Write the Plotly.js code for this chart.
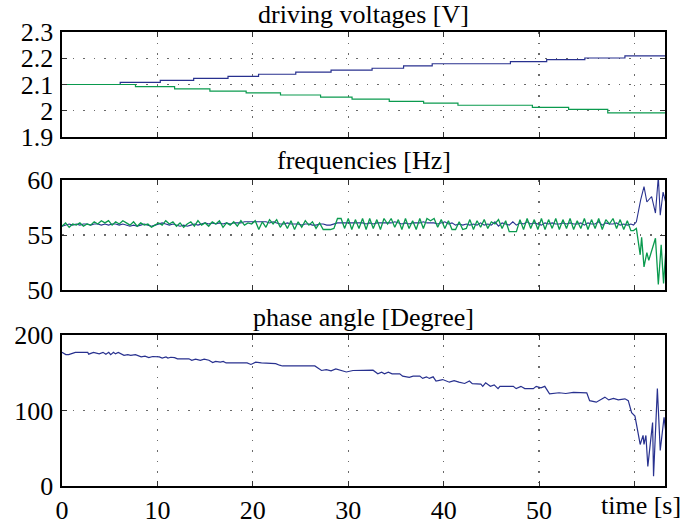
<!DOCTYPE html>
<html>
<head>
<meta charset="utf-8">
<script src="https://cdn.plot.ly/plotly-3.0.1.min.js"></script>
<style>html,body{margin:0;padding:0;background:#fff;}#chart{width:688px;height:524px;}</style>
</head>
<body>
<div id="chart"></div>
<script>
// ---------- driving voltages (step changes) ----------
const voltBlueT = [0, 6.1, 10.3, 13.8, 17.4, 20.6, 24.5, 28.2, 32.5, 35.8, 38.8, 47.0, 50.8, 54.8, 59.0, 63.2];
const voltBlueV = [2.100, 2.108, 2.116, 2.123, 2.131, 2.139, 2.147, 2.155, 2.162, 2.171, 2.179, 2.187, 2.195, 2.201, 2.209, 2.209];
const voltGreenT = [0, 7.7, 11.8, 15.5, 19.3, 22.9, 27.1, 30.4, 34.3, 37.9, 41.5, 49.3, 53.1, 57.2, 63.2];
const voltGreenV = [2.100, 2.092, 2.083, 2.075, 2.068, 2.060, 2.052, 2.044, 2.036, 2.029, 2.021, 2.013, 2.005, 1.992, 1.992];

// ---------- frequencies, sampled every 0.375 s up to 59.625 s, then tail ----------
const freqStep = 0.375;
const freqBlue = [
 55.8, 55.9, 56.0, 55.9, 56.0, 55.9, 56.0, 56.0, 55.9, 56.0, 56.0, 55.9, 56.0, 55.9, 56.0, 56.0, 55.9, 56.0, 55.9, 55.8, 55.9, 55.8, 55.9, 56.0, 55.9, 55.8, 55.9,
 56.0, 56.1, 56.0, 55.9, 56.0, 55.9, 55.8, 55.9, 55.8, 55.9, 56.0, 55.9, 56.0, 56.1, 56.0, 56.1, 56.0, 56.1, 56.0, 56.1, 56.0, 56.1, 56.1, 56.1, 56.2, 56.2, 56.2,
 56.2, 56.2, 56.2, 56.2, 56.1, 56.2, 56.1, 56.0, 56.0, 56.1, 56.0, 56.0, 56.0, 55.9, 56.0, 56.0, 55.9, 55.9, 56.0, 56.0, 55.9, 55.9, 56.0, 56.1, 56.1, 56.1,
 56.1, 56.1, 56.1, 56.1, 56.1, 56.0, 56.1, 56.0, 56.1, 56.1, 56.1, 56.1, 56.1, 56.2, 56.1, 56.0, 56.1, 56.0, 56.1, 56.1, 56.1, 56.2, 56.1, 56.1, 56.1, 56.0, 56.1,
 56.2, 56.0, 56.1, 55.9, 56.0, 55.9, 56.0, 55.9, 56.0, 55.9, 56.1, 55.9, 56.0, 55.9, 56.2, 55.8, 56.1, 56.0, 55.9, 56.2, 55.9, 56.1, 56.0, 56.2, 56.0, 56.1, 56.0,
 55.9, 56.1, 56.0, 56.1, 56.0, 56.0, 56.1, 56.0, 56.1, 56.0, 56.0, 56.1, 55.9, 56.1, 56.0, 56.0, 56.2, 55.9, 56.1, 56.0, 56.0, 56.1, 55.9, 56.0, 55.9, 56.0
];
const freqGreen = [
 55.8, 56.1, 55.7, 56.0, 55.9, 56.1, 55.8, 56.0, 55.9, 56.2, 56.0, 56.3, 56.1, 56.3, 55.9, 56.2, 56.0, 56.3, 56.1, 55.9, 56.2, 55.8, 56.1, 55.9, 56.0, 55.7, 55.9,
 56.1, 55.9, 56.3, 56.0, 56.2, 55.8, 56.1, 55.7, 56.0, 56.2, 55.8, 56.3, 55.9, 56.1, 55.8, 56.2, 56.0, 56.3, 55.7, 56.1, 55.9, 56.2, 55.8, 56.3, 55.9, 56.1, 56.0,
 56.3, 55.5, 56.2, 55.7, 56.4, 56.0, 56.4, 55.7, 56.2, 55.6, 56.3, 55.5, 56.2, 55.7, 56.3, 55.9, 56.2, 55.6, 56.1, 55.5, 55.5, 55.5, 55.6, 56.5, 56.5, 55.6,
 56.5, 55.5, 56.4, 55.6, 56.5, 55.5, 56.5, 55.6, 56.4, 55.5, 56.5, 56.0, 56.5, 55.7, 56.4, 55.5, 56.5, 55.6, 56.3, 55.5, 56.5, 55.6, 56.5, 56.3, 56.5, 55.7, 56.4,
 55.6, 56.3, 55.5, 55.5, 56.2, 55.5, 55.6, 56.4, 55.5, 56.3, 55.7, 56.4, 55.6, 56.2, 56.0, 56.4, 55.6, 56.3, 55.3, 55.3, 55.3, 56.4, 55.5, 56.5, 55.6, 56.4, 55.5,
 56.5, 55.5, 56.4, 55.6, 56.5, 55.5, 56.4, 55.6, 56.5, 55.5, 56.3, 55.6, 56.5, 55.5, 56.4, 55.6, 56.5, 55.5, 56.4, 56.0, 56.5, 55.6, 56.4, 55.5, 56.3, 55.4
];
const freqBlueTailT  = [59.9, 60.2, 60.65, 61.0, 61.3, 61.8, 62.2, 62.5, 62.7, 63.0, 63.3];
const freqBlueTailV  = [55.9, 56.2, 58.2, 59.4, 58.0, 58.5, 57.0, 60.3, 56.8, 58.9, 57.9];
const freqGreenTailT = [59.9, 60.2, 60.6, 60.75, 61.0, 61.3, 61.5, 61.9, 62.2, 62.5, 62.8, 63.05, 63.3];
const freqGreenTailV = [55.4, 55.6, 53.2, 54.8, 52.1, 53.4, 52.7, 53.8, 54.7, 50.5, 54.1, 50.6, 53.8];

// ---------- phase angle ----------
const phaseT = [0, 0.4, 0.7, 1.4, 2.7, 2.8, 3.3, 3.9, 4.3, 4.6, 4.9, 5.1, 5.4, 5.6, 5.9, 6.5, 6.9, 7.2, 7.7, 8.3, 8.7, 9.1, 9.5, 10.2, 10.5, 10.9, 11.1, 11.4, 11.8, 12.1, 13.3, 13.6, 14.0, 14.5, 14.9, 15.4, 15.8, 16.1, 16.6, 16.9, 17.2, 18.6, 19.1, 19.4, 19.8, 20.3, 20.9, 22.4, 22.8, 23.1, 26.5, 27.2, 27.7, 28.2, 28.7, 29.2, 29.8, 30.5, 32.6, 33.1, 33.5, 33.8, 34.2, 34.6, 35.4, 35.7, 36.4, 36.8, 37.5, 37.8, 38.2, 38.5, 38.9, 39.2, 39.9, 40.6, 41.1, 41.6, 42.2, 42.7, 43.0, 43.9, 44.1, 44.4, 44.9, 45.3, 45.7, 45.9, 47.3, 47.6, 48.1, 48.5, 49.4, 49.7, 50.2, 50.6, 51.1, 52.1, 52.8, 53.6, 55.0, 55.3, 56.0, 56.9, 57.3, 57.8, 58.3, 59.0, 59.35, 59.7, 60.05, 60.6, 60.9, 61.0, 61.2, 61.4, 61.9, 62.0, 62.4, 62.7, 63.1, 63.3];
const phaseV = [177, 174, 174, 177, 177, 174.6, 177, 175, 177, 174.5, 177, 174, 177, 175, 177, 173, 174, 173, 174, 171, 172, 170, 171.5, 171, 169.5, 171, 169.5, 170.5, 170, 168.5, 168.5, 166.5, 168, 166.5, 168, 166.5, 163.5, 165, 164, 165, 163, 163, 162, 163, 161, 164, 163, 162, 160, 159, 159, 153, 154, 152.5, 155, 153, 151, 153, 153.4, 148.6, 150.8, 148.6, 150.8, 148.6, 148.6, 145.5, 144, 145.5, 145.5, 142.5, 144.6, 142.5, 144.6, 139, 141, 137.5, 139.5, 137.5, 135.8, 139, 135.5, 135, 132, 136.6, 132, 134, 129, 132, 132, 129, 132, 129, 129, 132, 130, 132, 122, 123.5, 122.5, 124, 123.4, 113, 111, 117.7, 114, 116, 114, 115.5, 113, 97, 92.5, 55, 67, 55, 67, 26, 84, 13, 129, 47, 91, 70];

// ---------- tick labels ----------
const xTickVals = [0, 10, 20, 30, 40, 50, 60];
const xTickText = ['0', '10', '20', '30', '40', '50', ''];
const voltTicks = [1.9, 2, 2.1, 2.2, 2.3];
const voltTickText = ['1.9', '2', '2.1', '2.2', '2.3'];
const freqTicks = [50, 55, 60];
const phaseTicks = [0, 100, 200];
const titles = ['driving voltages [V]', 'frequencies [Hz]', 'phase angle [Degree]'];
const xLabel = 'time [s]';

const BLUE = '#28318f';
const GREEN = '#0a9a4e';
const FONT = 'Liberation Serif, Times New Roman, serif';
const FS = 26;

const freqT = freqBlue.map((_, i) => i * freqStep);

const traces = [
  {x: voltBlueT, y: voltBlueV, xaxis: 'x', yaxis: 'y', line: {shape: 'hv', color: BLUE, width: 1.2}},
  {x: voltGreenT, y: voltGreenV, xaxis: 'x', yaxis: 'y', line: {shape: 'hv', color: GREEN, width: 1.2}},
  {x: freqT.concat(freqBlueTailT), y: freqBlue.concat(freqBlueTailV), xaxis: 'x2', yaxis: 'y2', line: {color: BLUE, width: 1.1}},
  {x: freqT.concat(freqGreenTailT), y: freqGreen.concat(freqGreenTailV), xaxis: 'x2', yaxis: 'y2', line: {color: GREEN, width: 1.3}},
  {x: phaseT, y: phaseV, xaxis: 'x3', yaxis: 'y3', line: {color: BLUE, width: 1.2}}
].map(t => Object.assign({type: 'scatter', mode: 'lines', hoverinfo: 'skip'}, t));

const gridStyle = {showgrid: true, gridcolor: '#6a6a6a', griddash: '1.5px,9px', gridwidth: 1.2};

const xBase = Object.assign({
  range: [0, 63.2], tickvals: xTickVals, ticktext: xTickText,
  showline: true, mirror: 'ticks', linecolor: '#000', linewidth: 1.6,
  ticks: 'inside', ticklen: 5, tickcolor: '#333', tickwidth: 1,
  zeroline: false, tickfont: {family: FONT, size: FS, color: '#000'}
}, gridStyle);
function yAxis(range, vals, text, domain, anchor) {
  return Object.assign({
    range: range, tickvals: vals, ticktext: text, domain: domain, anchor: anchor,
    showline: true, mirror: 'ticks', linecolor: '#000', linewidth: 1.6,
    ticks: 'inside', ticklen: 5, tickcolor: '#333', tickwidth: 1,
    zeroline: false, tickfont: {family: FONT, size: FS, color: '#000'}, ticklabelstandoff: 2
  }, gridStyle);
}

const dom1 = [0.7687, 1.0], dom2 = [0.4317, 0.674], dom3 = [0, 0.3326];

const layout = {
  width: 688, height: 524,
  margin: {l: 62, r: 23, t: 32, b: 38},
  paper_bgcolor: '#fff', plot_bgcolor: '#fff',
  showlegend: false,
  font: {family: FONT, size: FS, color: '#000'},
  xaxis: Object.assign({}, xBase, {anchor: 'y', showticklabels: false}),
  xaxis2: Object.assign({}, xBase, {anchor: 'y2', matches: 'x', showticklabels: false}),
  xaxis3: Object.assign({}, xBase, {anchor: 'y3', matches: 'x', showticklabels: true}),
  yaxis: yAxis([1.9, 2.3], voltTicks, voltTickText, dom1, 'x'),
  yaxis2: yAxis([50, 60], freqTicks, freqTicks.map(String), dom2, 'x2'),
  yaxis3: yAxis([0, 200], phaseTicks, phaseTicks.map(String), dom3, 'x3'),
  annotations: [
    {text: titles[0], xref: 'paper', yref: 'paper', x: 0.5, y: dom1[1], yanchor: 'bottom', yshift: 1, showarrow: false, font: {family: FONT, size: FS}},
    {text: titles[1], xref: 'paper', yref: 'paper', x: 0.5, y: dom2[1], yanchor: 'bottom', yshift: 3, showarrow: false, font: {family: FONT, size: FS}},
    {text: titles[2], xref: 'paper', yref: 'paper', x: 0.5, y: dom3[1], yanchor: 'bottom', yshift: 1, showarrow: false, font: {family: FONT, size: FS}},
    {text: xLabel, xref: 'paper', yref: 'paper', x: 1.03, y: 0, xanchor: 'right', yanchor: 'top', yshift: -3, showarrow: false, font: {family: FONT, size: FS}}
  ]
};

Plotly.newPlot('chart', traces, layout, {staticPlot: true, displayModeBar: false});
</script>
</body>
</html>
